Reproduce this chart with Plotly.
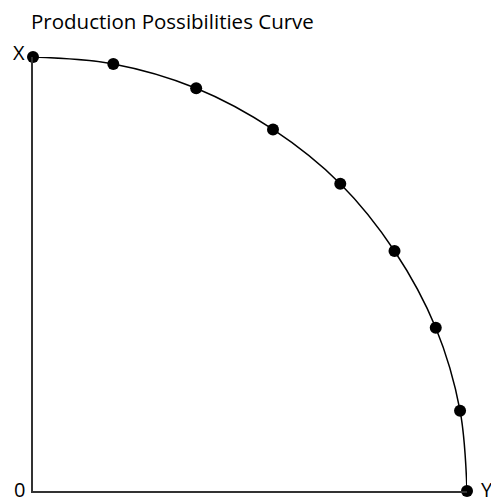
import plotly.graph_objects as go

# Output combinations along the frontier (good Y on the horizontal, good X on the vertical)
good_y = [0, 1.85, 3.76, 5.53, 7.08, 8.33, 9.28, 9.84, 10]
good_x = [10, 9.84, 9.28, 8.33, 7.08, 5.53, 3.76, 1.85, 0]

# Axis end labels and their anchor points
label_text = ["X", "0", "Y"]
label_xpos = [0, 0, 10]
label_ypos = [10, 0, 0]
label_side = ["right", "right", "left"]
label_dx = [-6, -6, 12]
label_dy = [5, 2, 2]

FONT = "Open Sans"

fig = go.Figure()
fig.add_trace(go.Scatter(
    x=good_y, y=good_x,
    mode="lines+markers",
    line=dict(color="black", width=1.5, shape="spline", smoothing=1.0),
    marker=dict(color="black", size=12),
    cliponaxis=False,
    showlegend=False,
    hoverinfo="skip",
))

for t, lx, ly, side, dx, dy in zip(label_text, label_xpos, label_ypos, label_side, label_dx, label_dy):
    fig.add_annotation(
        x=lx, y=ly, text=t, showarrow=False,
        xanchor=side, yanchor="middle",
        xshift=dx, yshift=dy,
        font=dict(family=FONT, size=20, color="black"),
    )

fig.update_layout(
    width=491, height=502,
    margin=dict(l=33, r=24, t=57, b=11),
    paper_bgcolor="white", plot_bgcolor="white",
    title=dict(
        text="Production Possibilities Curve",
        x=31 / 491, xref="container", xanchor="left",
        y=1 - 22 / 502, yref="container", yanchor="middle",
        font=dict(family=FONT, size=20.5, color="black"),
    ),
    xaxis=dict(range=[0, 10], showgrid=False, zeroline=False, showticklabels=False,
               ticks="", showline=True, linecolor="#333", linewidth=1.5),
    yaxis=dict(range=[0, 10], showgrid=False, zeroline=False, showticklabels=False,
               ticks="", showline=True, linecolor="#333", linewidth=1.5),
)

fig.write_html("out.html")
